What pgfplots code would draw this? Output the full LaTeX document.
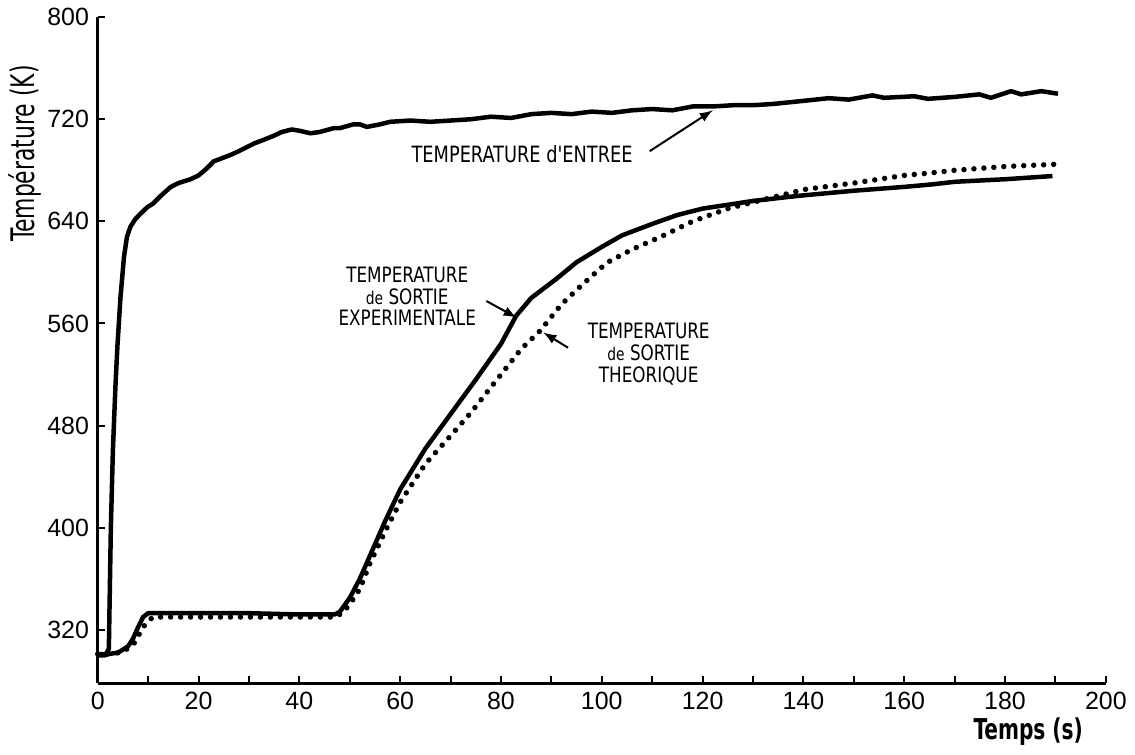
\documentclass[border=0pt]{standalone}
\usepackage{fontspec}
\usepackage{pgfplots}
\pgfplotsset{compat=1.18}
\newfontfamily\labfont{DejaVu Sans Condensed}
\newfontfamily\tickfont{Liberation Sans}
\begin{document}
\begin{tikzpicture}
\begin{axis}[
  scale only axis, width=404pt, height=267pt,
  xmin=0, xmax=200, ymin=278, ymax=800,
  axis x line=bottom, axis y line=left,
  axis line style={-, line width=1.2pt},
  xtick={0,20,...,200}, minor xtick={10,30,...,190},
  ytick={320,400,...,800},
  tick align=inside, major tick length=2.8pt, minor tick length=2.8pt,
  every tick/.style={line width=0.8pt, black},
  tick label style={font=\tickfont\fontsize{10}{12}\selectfont},
  /pgf/number format/assume math mode=true,
  clip=false,
]
% inlet temperature
\addplot[black, line width=1.8pt, line join=round] coordinates {
(0,300) (1.5,300) (2.2,305) (2.6,400) (3.0,460) (3.5,510) (3.9,542) (4.5,580)
(5.2,612) (5.8,628) (6.5,636) (7.5,642) (8.5,646) (9.8,651) (11,654) (12.5,660)
(14.5,667) (16,670) (18.4,673) (20,676) (21.5,681) (23,687) (25,690) (26.3,692)
(28,695) (31,701) (33,704) (34.9,707) (36.5,710) (38.5,712) (40,711) (42.2,709)
(44,710) (46.8,713) (48,713) (50.7,716) (52,716) (53.4,714) (56,716) (58,718)
(62,719) (66,718) (70,719) (74,720) (78,722) (82,721) (86,724) (90,725)
(94,724) (98,726) (102,725) (106,727) (110,728) (114,727) (118,730) (122,730)
(126,731) (130,731) (134,732) (139,734) (145,736.5) (149,735.4) (153.7,738.7) (156,736.8)
(162,738) (164.7,736) (170,737.5) (174.9,739.5) (177.2,736.8) (181.2,742) (183.2,739.5)
(187.2,742) (190.5,740)
};
% outlet experimental
\addplot[black, line width=1.8pt, line join=round] coordinates {
(0,301) (2,301) (4,302) (6,307) (7,313) (8,322) (9,330) (10,333) (12,333)
(20,333) (30,333) (40,332) (47,332) (48,334) (50,345) (52,360) (54,378)
(57,405) (60,430) (65,462) (70,489) (75,516) (80,544) (83,566) (86,580)
(91,595) (95,608) (100,620) (104,629) (110,638) (115,645) (120,650) (125,653)
(130,656) (139,660) (150,664) (160,667) (165.6,669) (170,671) (180,673) (189.4,675.5)
};
% outlet theoretical
\addplot[black, line width=2.2pt, line cap=round, dash pattern=on 0pt off 4pt] coordinates {
(0,301) (3,301) (5,303) (7,308) (8,315) (9,322) (10,327) (11,330) (14,330)
(20,330) (30,330) (40,330) (47,330) (48.5,333) (50,340) (52,352) (54,372)
(57,397) (60,420) (65,450) (70,472) (74,490) (80,520) (84,540) (87.7,554)
(92,575) (96,590) (101,607.6) (106,618) (112,628.5) (118,640) (125,650) (130,655)
(140.2,665) (150,670) (160,676) (165.5,678) (170,680) (180,683) (190,684.7)
};
% labels
\node[rotate=90, font=\labfont\fontsize{13}{15}\selectfont] at (axis cs:-14.5,693) {\scalebox{0.75}[1]{Température (K)}};
\node[font=\labfont\bfseries\fontsize{11.5}{14}\selectfont] at (axis cs:184.6,240) {\scalebox{0.78}[1]{Temps (s)}};
% annotations
\node[font=\labfont\fontsize{9}{10}\selectfont] at (axis cs:84.2,692.7) {\scalebox{0.88}[1]{TEMPERATURE d'ENTREE}};
\draw[line width=0.8pt, -{latex}] (axis cs:109.5,695) -- (axis cs:122,727);
\node[font=\labfont\fontsize{8.5}{8.2}\selectfont] at (axis cs:61.4,579)
  {\scalebox{0.88}[1]{\begin{tabular}{@{}c@{}}TEMPERATURE\\{\fontsize{7}{8}\selectfont de} SORTIE\\EXPERIMENTALE\end{tabular}}};
\draw[line width=0.8pt, -{latex}] (axis cs:77.1,577.6) -- (axis cs:83.1,564.6);
\node[font=\labfont\fontsize{8.5}{8.2}\selectfont] at (axis cs:109.3,534.6)
  {\scalebox{0.88}[1]{\begin{tabular}{@{}c@{}}TEMPERATURE\\{\fontsize{7}{8}\selectfont de} SORTIE\\THEORIQUE\end{tabular}}};
\draw[line width=0.8pt, -{latex}] (axis cs:93.3,541) -- (axis cs:88.4,552.9);
\end{axis}
\end{tikzpicture}
\end{document}
